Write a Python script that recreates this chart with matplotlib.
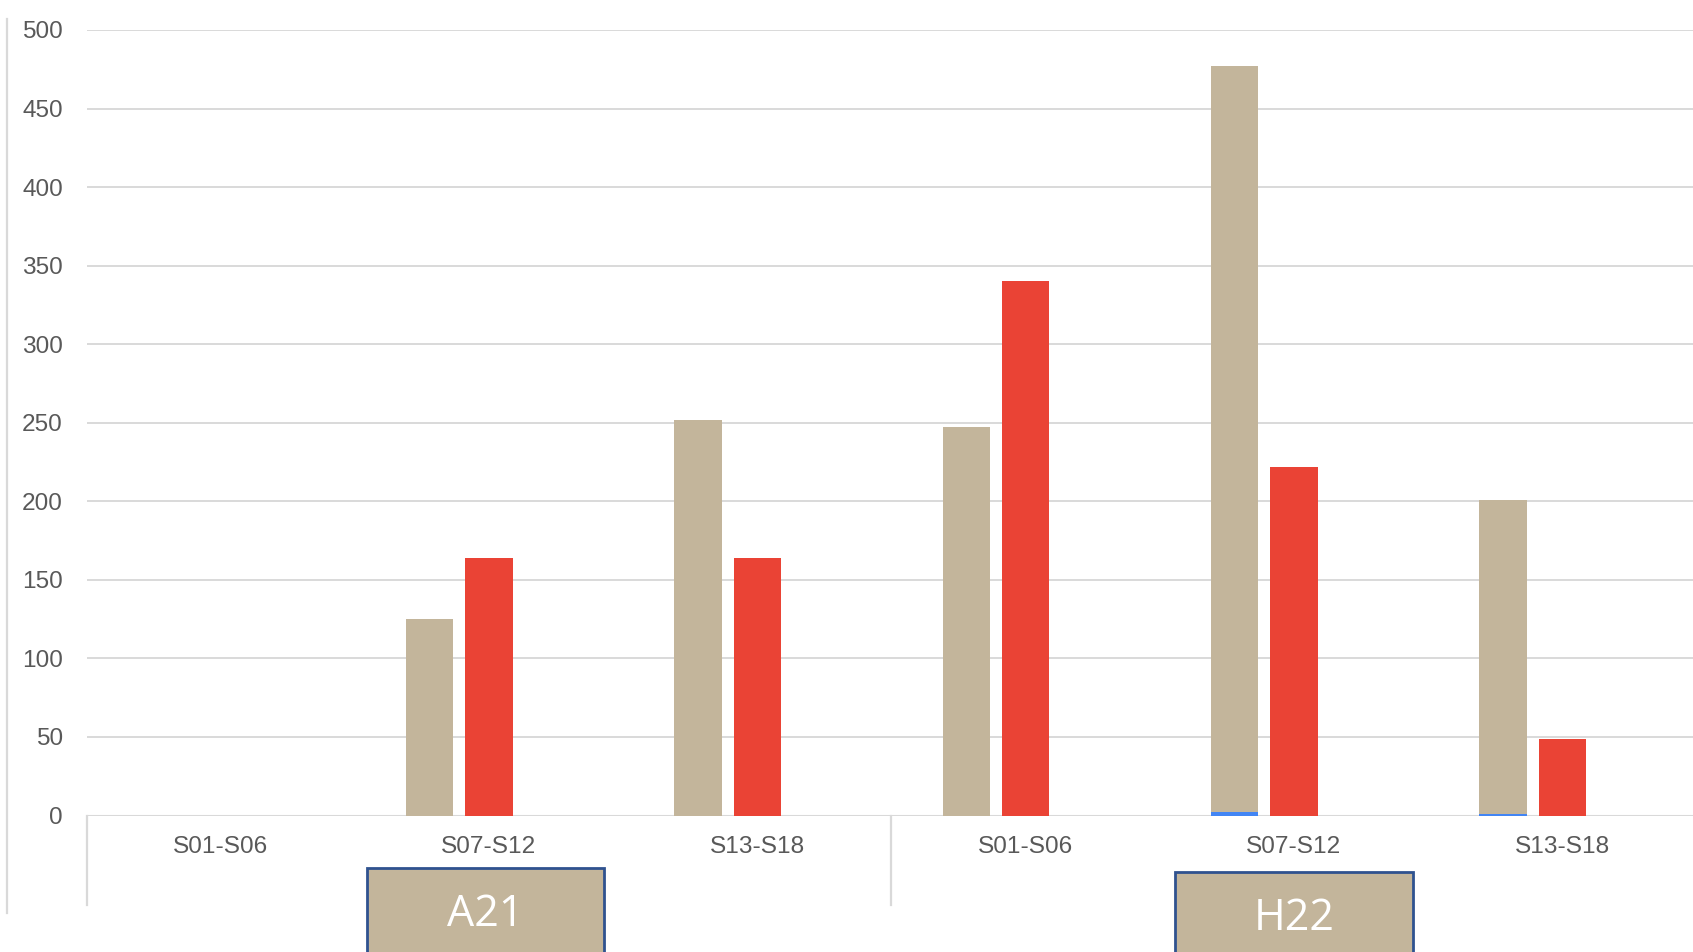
import matplotlib
matplotlib.use("Agg")
import matplotlib.pyplot as plt
import matplotlib.transforms as mtransforms
from matplotlib.patches import Rectangle
from matplotlib.lines import Line2D

# ---- data ----
categories = ["S01-S06", "S07-S12", "S13-S18", "S01-S06", "S07-S12", "S13-S18"]
groups = ["A21", "H22"]
group_size = 3
blue_vals = [0, 0, 0, 0, 2, 1]
tan_vals = [0, 125, 252, 247, 475, 200]
red_vals = [0, 164, 164, 340, 222, 49]
yticks = [0, 50, 100, 150, 200, 250, 300, 350, 400, 450, 500]

TAN = "#C3B59B"
RED = "#EA4335"
BLUE = "#4285F4"
GRID = "#D9D9D9"
TXT = "#595959"

W, H = 1693, 952
fig = plt.figure(figsize=(W / 100, H / 100), dpi=100)
left = 86.5 / W
right = 1696.5 / W
bottom = 1 - 815.5 / H
top = 1 - 30 / H
ax = fig.add_axes([left, bottom, right - left, top - bottom])

x = list(range(len(categories)))
bw = 0.176
off = 0.221
xt = [i - off for i in x]
ax.bar(xt, blue_vals, width=bw, color=BLUE, zorder=3)
ax.bar(xt, tan_vals, width=bw, bottom=blue_vals, color=TAN, zorder=3)
ax.bar(x, red_vals, width=bw, color=RED, zorder=3)

ax.set_xlim(-0.5, len(categories) - 0.5)
ax.set_ylim(0, 500)
ax.set_yticks(yticks)
ax.set_yticklabels([str(v) for v in yticks])
ax.set_xticks(x)
ax.set_xticklabels(categories)
for s in ax.spines.values():
    s.set_visible(False)
ax.grid(axis="y", color=GRID, linewidth=1.4, zorder=0)
ax.set_axisbelow(True)
ax.tick_params(axis="both", length=0, labelsize=17.6, labelcolor=TXT)
ax.tick_params(axis="x", pad=14.5)
ax.tick_params(axis="y", pad=17)
for lab in ax.get_xticklabels() + ax.get_yticklabels():
    lab.set_fontfamily("Liberation Sans")

# zero axis line
ax.axhline(0, color=GRID, linewidth=2.2, zorder=2)

# group separators
ax_h_px = 815.5 - 30
sep_bottom = -(905 - 815.5) / ax_h_px
trans = mtransforms.blended_transform_factory(ax.transData, ax.transAxes)
for g in range(len(groups)):
    xs = g * group_size - 0.5
    ax.add_line(Line2D([xs, xs], [0, sep_bottom], transform=trans, color=GRID,
                       linewidth=1.6, clip_on=False))

# group label boxes
box_w = 0.885
box_tops = [868, 872]
box_shift = [-0.014, 0.0]
for g, name in enumerate(groups):
    cx = g * group_size + 1 + box_shift[g]
    ytop = -(box_tops[g] - 815.5) / ax_h_px
    ybot = -(960 - 815.5) / ax_h_px
    ax.add_patch(Rectangle((cx - box_w / 2, ybot), box_w, ytop - ybot, transform=trans,
                           facecolor=TAN, edgecolor="#2F528F", linewidth=2,
                           clip_on=False, zorder=5))
    ytxt = -((box_tops[g] + 47) - 815.5) / ax_h_px
    ax.text(cx, ytxt, name, transform=trans, ha="center", va="center",
            fontsize=31, color="white", family="Open Sans", zorder=6, clip_on=False)

# left border line
fig.add_artist(Line2D([7 / W, 7 / W], [1 - 19 / H, 1 - 913 / H], color=GRID,
                      linewidth=1.6, transform=fig.transFigure))

fig.savefig("out.png", dpi=100)
